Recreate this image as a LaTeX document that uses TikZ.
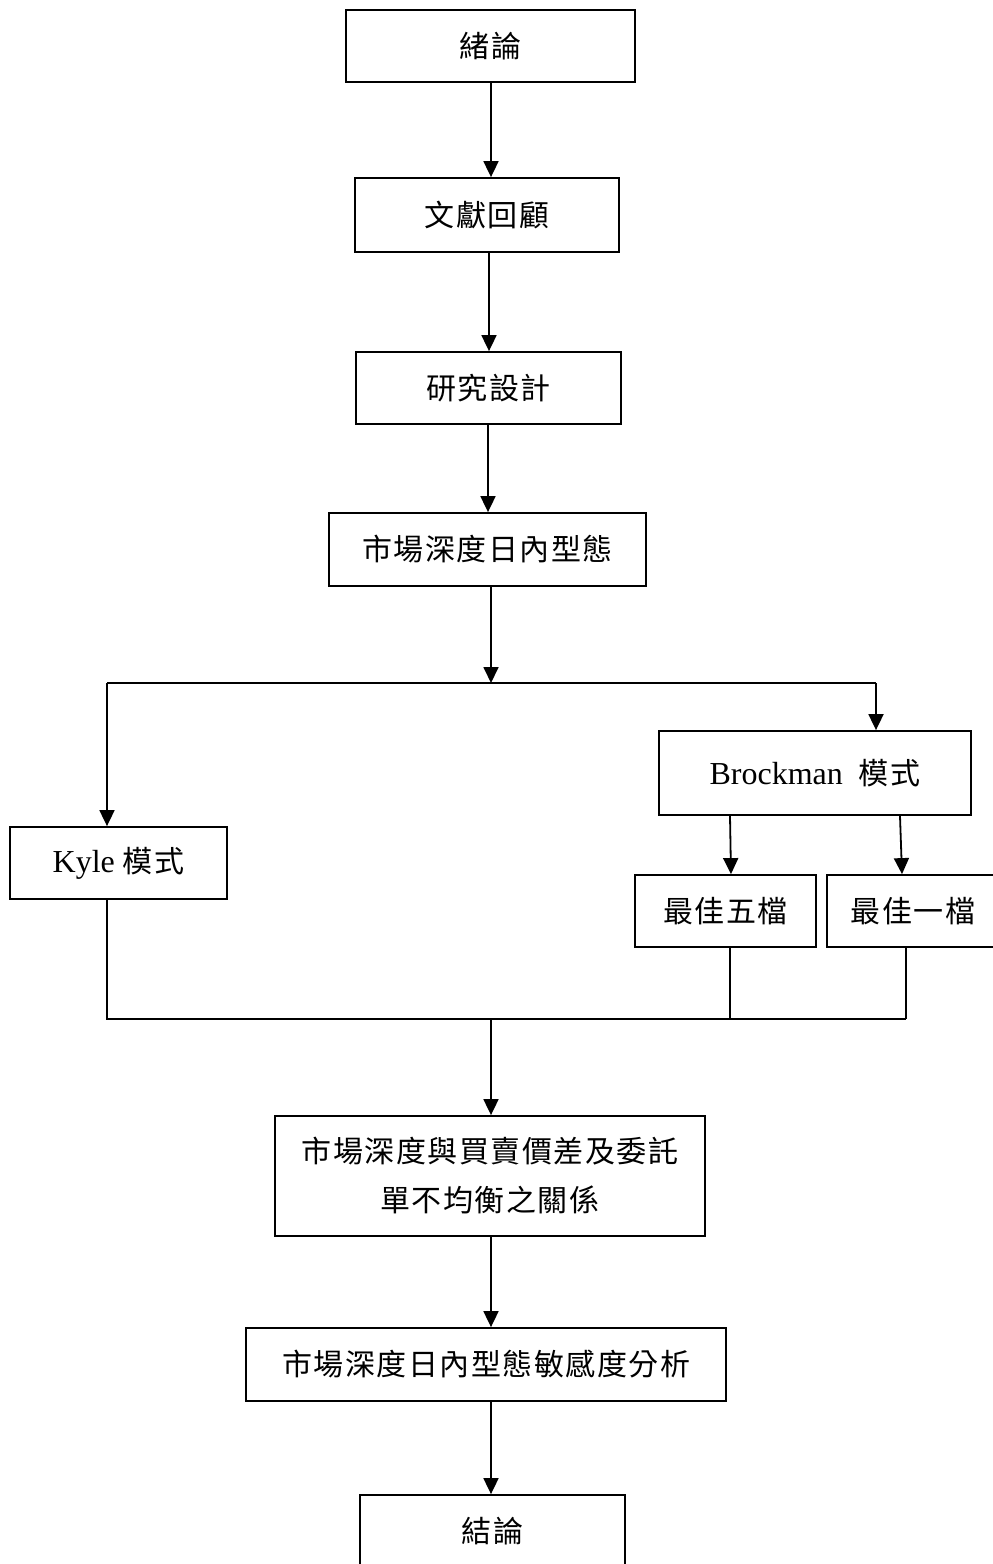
\documentclass[tikz,border=0pt]{standalone}
\usepackage{fontspec}
\setmainfont{Liberation Serif}
\newfontfamily\cjkfam[LetterSpace=5]{Noto Sans CJK TC}
\newcommand{\cjk}{\cjkfam\fontsize{30}{49}\selectfont}
\usetikzlibrary{arrows.meta,calc}
\begin{document}
\begin{tikzpicture}[x=1pt,y=-1pt,
  box/.style={draw,line width=1.8pt,inner sep=0pt,align=center,
    font=\fontsize{32}{49}\selectfont},
  conn/.style={line width=1.8pt},
  arr/.style={conn,-{Triangle[length=16pt,width=15pt]}}]
\clip (0,0) rectangle (993,1564);
\fill[white] (0,0) rectangle (993,1564);

\node[box,minimum width=289,minimum height=72] (n1) at (490.5,46) {\cjk 緒論};
\node[box,minimum width=264,minimum height=74] (n2) at (487,215) {\cjk 文獻回顧};
\node[box,minimum width=265,minimum height=72] (n3) at (488.5,388) {\cjk 研究設計};
\node[box,minimum width=317,minimum height=73] (n4) at (487.5,549.5) {\cjk 市場深度日內型態};
\node[box,minimum width=217,minimum height=72] (kyle) at (118.5,863) {Kyle {\cjk 模式}};
\node[box,minimum width=312,minimum height=84] (brock) at (815,773) {Brockman\ \ {\cjk 模式}};
\node[box,minimum width=181,minimum height=72] (five) at (725.5,911) {\cjk 最佳五檔};
\node[box,minimum width=172,minimum height=72] (one) at (913,911) {\cjk 最佳一檔};
\node[box,minimum width=430,minimum height=120] (rel) at (490,1176) {\cjk 市場深度與買賣價差及委託\\\cjk 單不均衡之關係};
\node[box,minimum width=480,minimum height=73] (sens) at (486,1364.5) {\cjk 市場深度日內型態敏感度分析};
\node[box,minimum width=265,minimum height=72] (concl) at (492.5,1531) {\cjk 結論};

\coordinate (j1) at (491,683);
\coordinate (jl) at (107,683);
\coordinate (jr) at (876,683);
\coordinate (j2) at (491,1019);
\coordinate (bl) at (107,1019);
\coordinate (bf) at (730,1019);
\coordinate (bo) at (906,1019);

\draw[arr] (491,0 |- n1.south) -- (491,0 |- n2.north);
\draw[arr] (489,0 |- n2.south) -- (489,0 |- n3.north);
\draw[arr] (488,0 |- n3.south) -- (488,0 |- n4.north);
\draw[arr] (491,0 |- n4.south) -- (j1);
\draw[conn] (jl) -- (jr);
\draw[arr] (jl) -- (jl |- kyle.north);
\draw[arr] (jr) -- (jr |- brock.north);
\draw[arr] (730,0 |- brock.south) -- (731,0 |- five.north);
\draw[arr] (900,0 |- brock.south) -- (902,0 |- one.north);
\draw[conn] (bl |- kyle.south) -- (bl) -- (bo);
\draw[conn] (bf |- five.south) -- (bf);
\draw[conn] (bo |- one.south) -- (bo);
\draw[arr] (j2) -- (j2 |- rel.north);
\draw[arr] (491,0 |- rel.south) -- (491,0 |- sens.north);
\draw[arr] (491,0 |- sens.south) -- (491,0 |- concl.north);
\end{tikzpicture}
\end{document}
